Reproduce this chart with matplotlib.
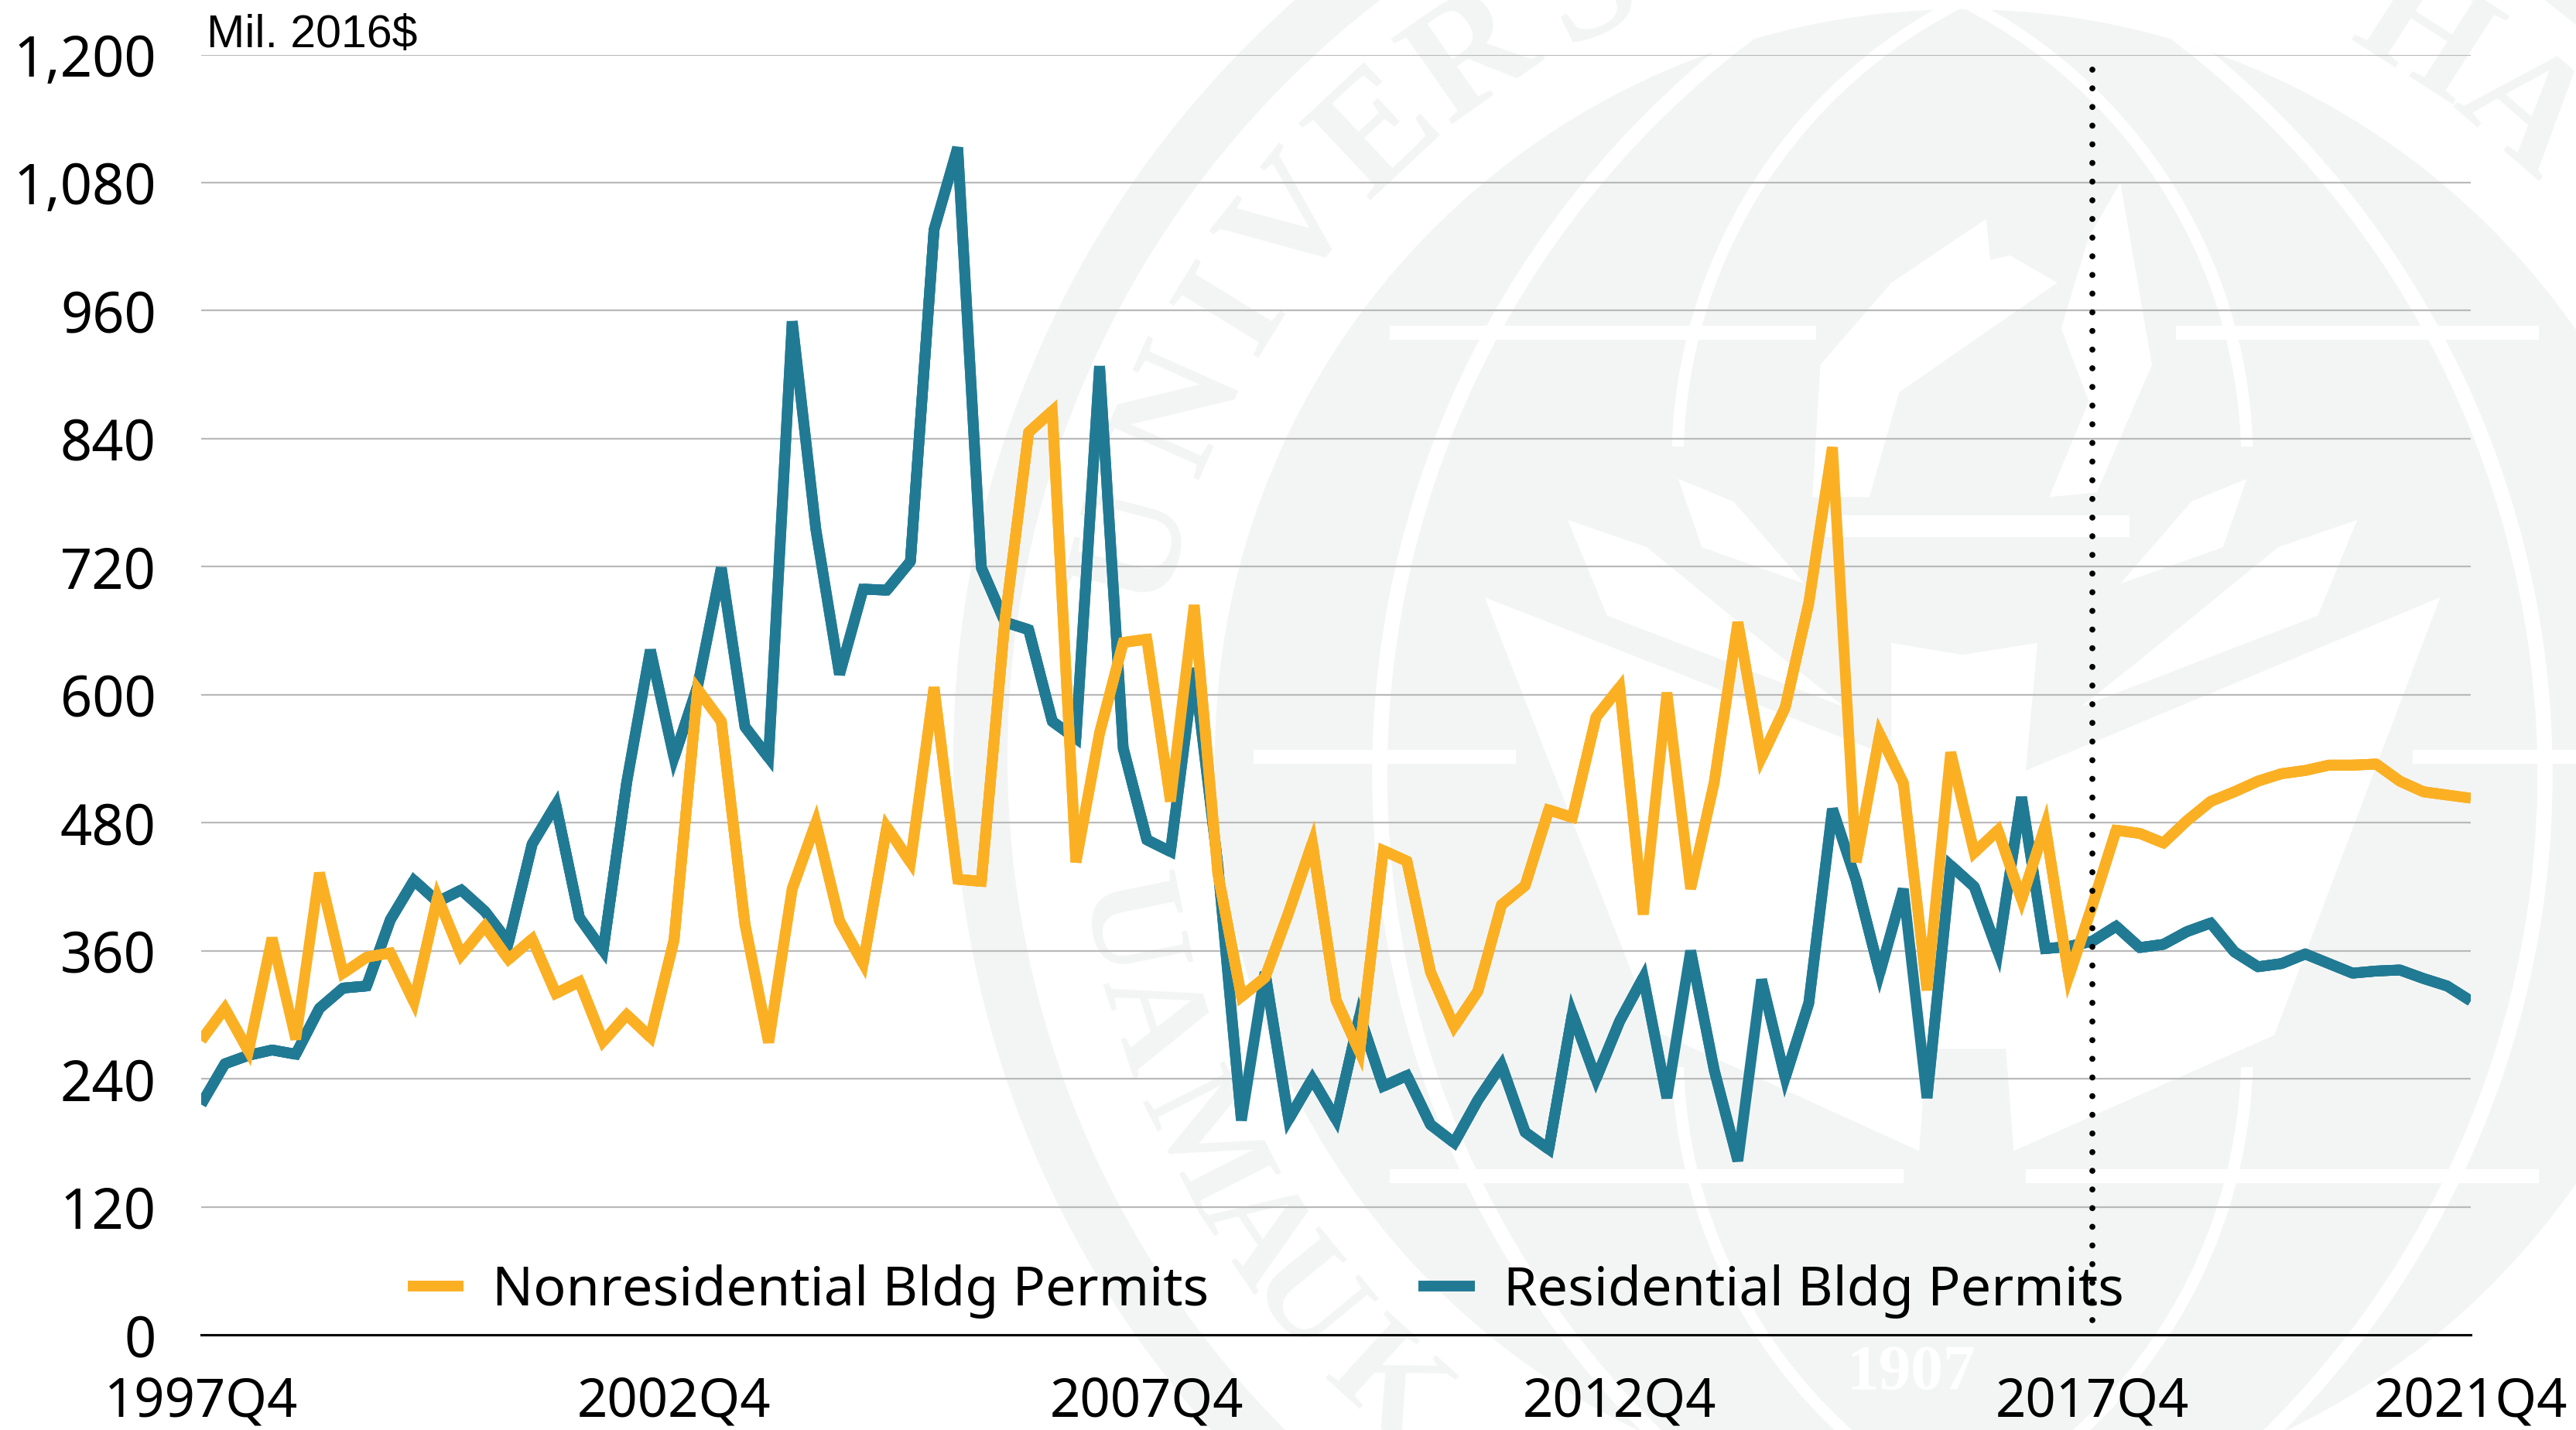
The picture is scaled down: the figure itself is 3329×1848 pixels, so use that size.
import numpy as np
import matplotlib
matplotlib.use("Agg")
import matplotlib.pyplot as plt
from matplotlib.patches import Circle, Polygon, Rectangle

W, H = 3330, 1848
years = [f"{1997 + (i + 3) // 4}Q{(i + 3) % 4 + 1}" for i in range(97)]
tick_quarters = ["1997Q4", "2002Q4", "2007Q4", "2012Q4", "2017Q4", "2021Q4"]
y_ticks = [0, 120, 240, 360, 480, 600, 720, 840, 960, 1080, 1200]

nonresidential = [276, 306, 266, 372, 277, 433, 339, 354, 358, 312, 410, 356, 383, 352, 371, 320, 331, 275, 300, 279,
                  370, 605, 575, 385, 274, 418, 480, 388, 348, 476, 443, 607, 427, 425, 670, 846, 866, 443, 564, 649,
                  652, 500, 684, 433, 317, 335, 396, 461, 314, 265, 454, 444, 340, 289, 322, 403, 421, 492, 485, 579,
                  607, 394, 602, 418, 518, 668, 541, 588, 686, 832, 443, 563, 517, 323, 546, 452, 473, 408, 477, 336,
                  403, 473, 470, 461, 482, 500, 509, 519, 526, 529, 534, 534, 535, 519, 509, 506, 503]
residential = [216, 254, 262, 267, 263, 306, 325, 327, 389, 426, 406, 417, 397, 368, 460, 497, 391, 360, 518, 642,
               541, 608, 719, 570, 541, 950, 755, 619, 699, 698, 725, 1036, 1113, 719, 668, 661, 575, 559, 908, 550,
               464, 453, 625, 441, 201, 340, 202, 240, 202, 299, 233, 243, 197, 180, 220, 253, 190, 174, 301, 240,
               294, 335, 222, 360, 248, 163, 333, 241, 311, 493, 426, 339, 418, 222, 440, 420, 359, 504, 362, 364,
               369, 383, 363, 366, 378, 386, 359, 345, 348, 357, 348, 339, 341, 342, 334, 327, 313]
forecast_start = "2017Q4"

series_names = ["Nonresidential Bldg Permits", "Residential Bldg Permits"]
ORANGE, TEAL, MARK = "#FBB024", "#217A94", "#F3F5F4"
LINE_WIDTH = 10
MITER_LIMIT = 4.55

plt.rcParams["lines.solid_capstyle"] = "butt"
fig = plt.figure(figsize=(W / 100, H / 100), dpi=100, facecolor="white")

# faint university seal behind the chart
bg = fig.add_axes([0, 0, 1, 1], zorder=0)
bg.set_xlim(0, W); bg.set_ylim(H, 0); bg.axis("off")
cx, cy = 2536, 978


def z(pts):
    return [(1730 + px / 0.98, py / 0.8485) for px, py in pts]


def mirror(pts):
    return [(2 * 790 - px, py) for px, py in pts]


for r, c in [(1304, MARK), (1234, "white"), (966, MARK)]:
    bg.add_patch(Circle((cx, cy), r, fc=c, ec="none"))
disc = Circle((cx, cy), 966, transform=bg.transData)
for ccx, ccy, r, lw in [(2983, 1001, 1200, 14), (2089, 1001, 1200, 14)]:
    arc = Circle((ccx, ccy), r, fc="none", ec="white", lw=lw)
    bg.add_patch(arc)
    arc.set_clip_path(disc)
for ccx in [2834, 2238]:
    arc = Circle((ccx, 597), 666, fc="none", ec="white", lw=11)
    bg.add_patch(arc)
    arc.set_clip_path(Rectangle((1800, 0), 1500, 577, transform=bg.transData))
    arc2 = Circle((ccx, 1359), 666, fc="none", ec="white", lw=11)
    bg.add_patch(arc2)
    arc2.set_clip_path(Rectangle((1800, 1379), 1500, 469, transform=bg.transData))
for y0, x0, x1 in [(430, 1796, 2347), (430, 2812, 3281), (978, 1620, 1959), (978, 3118, 3330),
                   (1520, 1796, 2460), (1520, 2618, 3281)]:
    bg.add_patch(Rectangle((x0, y0 - 9), x1 - x0, 18, fc="white", ec="none"))
shield = [(185, 655), (700, 830), (700, 705), (790, 718), (885, 705), (870, 845), (1395, 655), (1185, 1135),
          (855, 1262), (845, 1150), (745, 1150), (735, 1262), (400, 1130)]
bg.add_patch(Polygon(z(shield), closed=True, fc="white", ec="none"))
leaf_a = [(290, 570), (390, 600), (560, 720), (640, 775), (340, 675)]
leaf_b = [(430, 525), (500, 550), (590, 640), (460, 600)]
flame_a = [(820, 240), (700, 310), (610, 400), (600, 545), (672, 545), (710, 430), (910, 310), (850, 280), (825, 285)]
flame_b = [(990, 200), (1030, 400), (960, 540), (900, 545), (950, 440), (915, 360), (950, 260)]
for pts in [leaf_a, mirror(leaf_a), leaf_b, mirror(leaf_b), flame_a, flame_b]:
    bg.add_patch(Polygon(z(pts), closed=True, fc="white", ec="none"))
bg.add_patch(Rectangle(*z([(610, 565)]), 400, 28, fc="white", ec="none"))

upper_letters = list("UNIVERS") + list("HA")
upper_angles = [14.4, 24, 31.6, 38.5, 46.9, 55, 64, 122.7, 131]
for ch, a in zip(upper_letters, upper_angles):
    t = np.radians(a)
    bg.text(cx - 1100 * np.cos(t), cy - 1100 * np.sin(t), ch, rotation=90 - a, rotation_mode="anchor",
            ha="center", va="center", fontsize=150, fontweight="bold", family="Liberation Serif", color=MARK)
lower_letters = list("UAMAUK")
lower_angles = [11.6, 18, 27, 34, 39.5, 47.6]
for ch, a in zip(lower_letters, lower_angles):
    t = np.radians(a)
    bg.text(cx - 1106 * np.cos(t), cy + 1106 * np.sin(t), ch, rotation=a - 90, rotation_mode="anchor",
            ha="center", va="center", fontsize=130, fontweight="bold", family="Liberation Serif", color=MARK)
bg.text(2470, 1775, "1907", ha="center", va="center", fontsize=60, fontweight="bold",
        family="Liberation Serif", color="white")

ax = fig.add_axes([260 / W, 1 - 1725 / H, (3193 - 260) / W, (1725 - 70.6) / H], zorder=1)
ax.patch.set_alpha(0)
ax.set_xlim(0, len(years) - 1)
ax.set_ylim(0, 1200)
x = np.arange(len(years))


def draw_series(values, color, label, zorder):
    """Sharp corners are cut flat, gentler ones keep their mitre point."""
    ax.plot(x, values, color=color, lw=LINE_WIDTH, solid_joinstyle="bevel", label=label, zorder=zorder)
    p = ax.transData.transform(np.column_stack([x, values]))
    for i in range(1, len(values) - 1):
        u, v = p[i - 1] - p[i], p[i + 1] - p[i]
        cosang = np.dot(u, v) / (np.linalg.norm(u) * np.linalg.norm(v))
        ang = np.arccos(np.clip(cosang, -1, 1))
        if 1 / np.sin(ang / 2) <= MITER_LIMIT:
            ax.plot(x[i - 1:i + 2], values[i - 1:i + 2], color=color, lw=LINE_WIDTH,
                    solid_joinstyle="miter", zorder=zorder)


draw_series(residential, TEAL, series_names[1], 3)
draw_series(nonresidential, ORANGE, series_names[0], 4)
xf = years.index(forecast_start)
ax.plot([xf, xf], [14, 1187], color="black", lw=5.6, linestyle=(0, (0.001, 3.1)), dash_capstyle="round", zorder=5)

ax.set_yticks(y_ticks, [f"{v:,}" for v in y_ticks])
ax.set_xticks([years.index(q) for q in tick_quarters], tick_quarters)
ax.grid(axis="y", color="#B9B9B9", lw=1.6, zorder=1)
ax.set_axisbelow(True)
for s in ["top", "left", "right"]:
    ax.spines[s].set_visible(False)
ax.spines["bottom"].set_color("black")
ax.spines["bottom"].set_linewidth(2.2)
ax.tick_params(length=0, labelcolor="black")
ax.tick_params(axis="y", pad=42, labelsize=52)
ax.tick_params(axis="x", pad=38, labelsize=49.5)
for lab in ax.get_xticklabels() + ax.get_yticklabels():
    lab.set_family("Noto Sans")

handles = ax.get_legend_handles_labels()
order = [handles[1].index(n) for n in series_names]
leg = ax.legend([handles[0][i] for i in order], series_names, ncols=2, frameon=False, loc="lower left",
                bbox_to_anchor=(527 / W, 1 - 1704 / H), bbox_transform=fig.transFigure,
                prop={"family": "Noto Sans", "size": 50.5}, handlelength=1.03, handletextpad=0.53,
                columnspacing=3.86, borderpad=0, borderaxespad=0)
leg.set_zorder(6)

fig.text(267 / W, 1 - 61 / H, "Mil. 2016$", family="Liberation Sans", fontsize=42.5, color="black", va="baseline")
fig.savefig("out.png", dpi=100)
